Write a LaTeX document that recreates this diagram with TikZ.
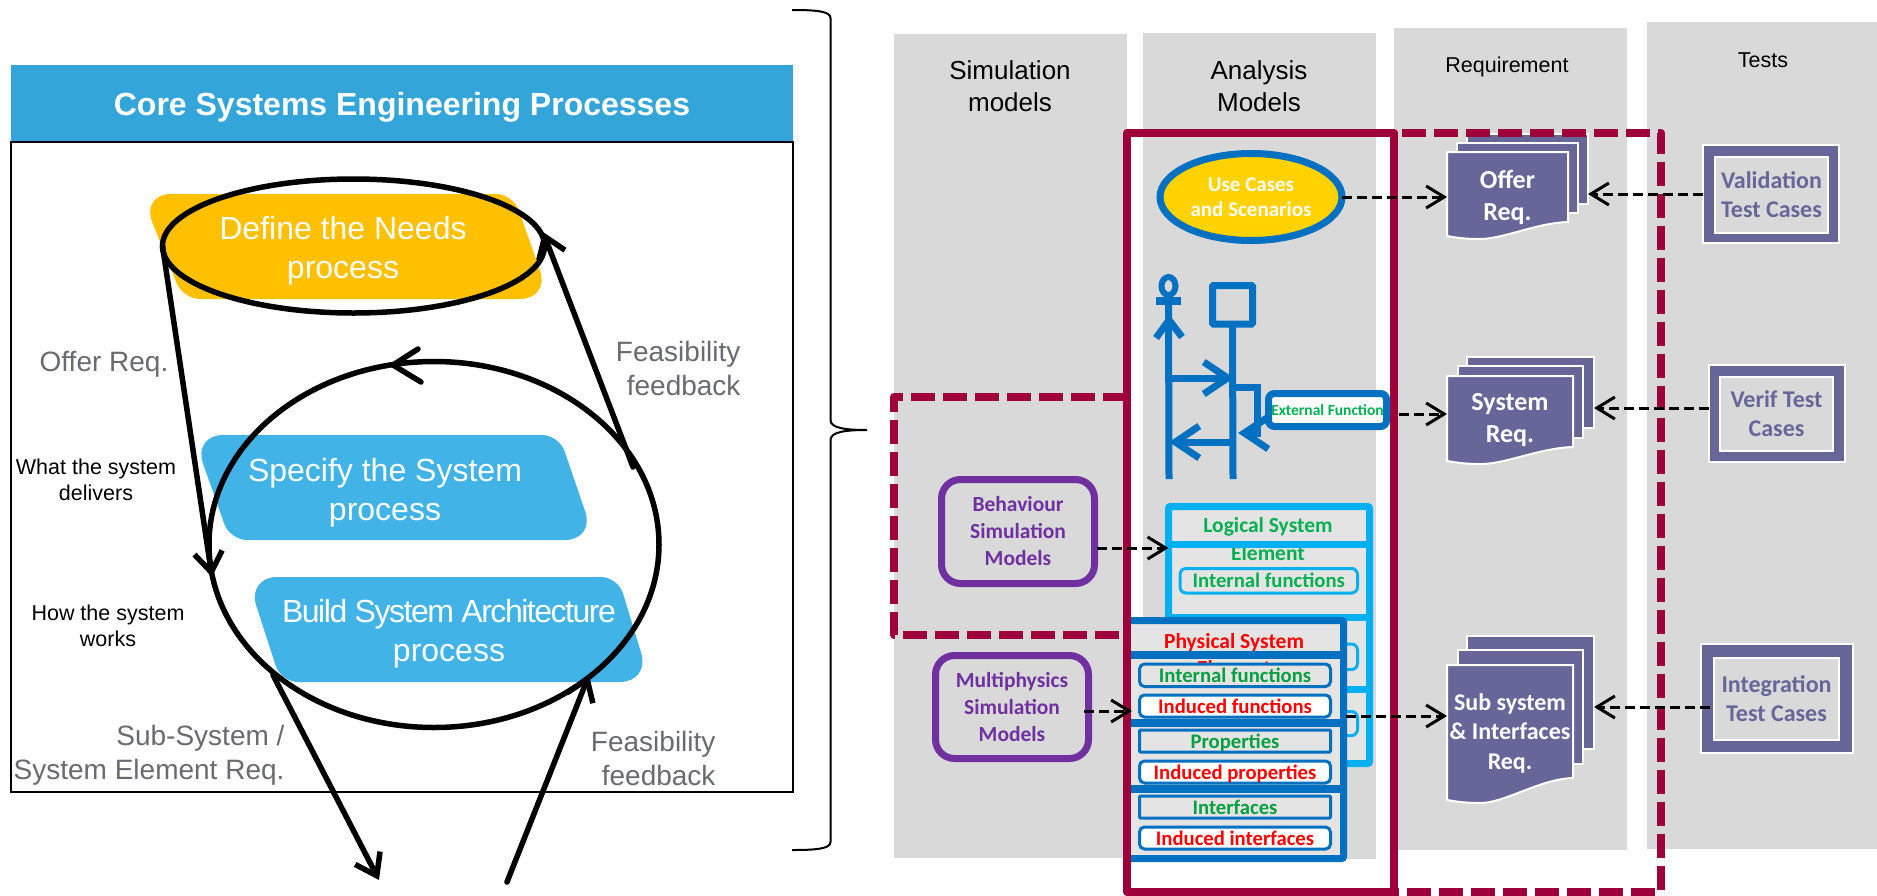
\documentclass[tikz,border=0pt]{standalone}
\usepackage{fontspec}
\setmainfont{Liberation Sans}
\newfontfamily\cb{Carlito}
\usetikzlibrary{arrows.meta,shapes.geometric}
\definecolor{crim}{HTML}{9E0039}
\definecolor{hdr}{HTML}{34A5D8}
\definecolor{pblue}{HTML}{41B3E6}
\definecolor{pyel}{HTML}{FFC000}
\definecolor{ucyel}{HTML}{FFD200}
\definecolor{cgray}{HTML}{D9D9D9}
\definecolor{igray}{HTML}{E4E4E4}
\definecolor{lblgray}{HTML}{6A6B70}
\definecolor{dblue}{HTML}{0070C0}
\definecolor{lblue}{HTML}{00B0F0}
\definecolor{purp}{HTML}{7030A0}
\definecolor{doc}{HTML}{666699}
\definecolor{gr}{HTML}{00B050}
\definecolor{gr2}{HTML}{00A040}
\newcommand\bx[7]{\node[#6,inner sep=0pt,outer sep=0pt,align=center,minimum width={#4-#2},minimum height={#5-#3}] (#1) at ({(#2+#4)/2},{(#3+#5)/2}) {#7};}
\newcommand\docpage[5]{\draw[docline] (#1,#2) -- (#3,#2) -- (#3,#4) .. controls ({#3-.27*(#3-#1)},{#4+1}) and ({#1+.45*(#3-#1)},{#5+4}) .. ({#1+.25*(#3-#1)},{#5+3}) .. controls ({#1+.13*(#3-#1)},{#5+3}) and ({#1+.05*(#3-#1)},{#5+1}) .. (#1,#5) -- cycle;}
% colour, top-left x, top-right x, bottom-right x, bottom-left x, top y, bottom y
\newcommand\procshape[7]{\fill[#1] ({(#2+#3)/2},#6) [rounded corners=17pt] -- (#3,#6) [rounded corners=30pt] -- (#4,#7) [rounded corners=17pt] -- (#5,#7) [rounded corners=30pt] -- (#2,#6) -- cycle;}
\tikzset{
 column/.style={fill=cgray,draw=none},
 ptext/.style={text=white,align=center,font=\fontsize{32}{39}\selectfont},
 biglabel/.style={text=lblgray,align=center,font=\fontsize{28}{34}\selectfont},
 smalllabel/.style={text=black,align=center,font=\fontsize{21.5}{26}\selectfont},
 bigline/.style={black,line width=5.5pt,line cap=round,line join=round},
 bigarrow/.style={bigline,-{Straight Barb[length=20pt,width=28pt,line width=5.5pt]}},
 coltitle/.style={text=black,align=center,font=\fontsize{26}{32}\selectfont},
 coltitlesm/.style={text=black,align=center,font=\fontsize{21.5}{25}\selectfont},
 crimline/.style={crim,line width=8pt,line join=round},
 crimdash/.style={crimline,dash pattern=on 24pt off 8pt},
 dasharrow/.style={black,line width=3pt,dash pattern=on 10pt off 5pt,-{Straight Barb[length=18pt,width=22pt,line width=3pt]}},
 seq/.style={dblue,line width=7pt},
 seqarrow/.style={seq,-{Straight Barb[length=24pt,width=32pt,line width=7pt]}},
 simbox/.style={draw=purp,line width=7pt,rounded corners=19pt,text=purp,font=\cb\bfseries\fontsize{21.5}{27}\selectfont},
 docline/.style={draw=white,fill=doc,line width=2pt},
 docpagebox/.style={draw=white,fill=doc,line width=2pt},
 doctext/.style={text=white,font=\cb\bfseries\fontsize{24}{29.5}\selectfont},
 doctextbig/.style={text=white,font=\cb\bfseries\fontsize{26}{32}\selectfont},
 testouter/.style={draw=white,fill=doc,line width=2pt},
 testinner/.style={draw=white,fill=cgray,line width=2pt,text=doc,font=\cb\bfseries\fontsize{24}{29}\selectfont},
 lgbox/.style={draw=lblue,fill=igray,line width=7pt,rounded corners=2pt},
 lginner/.style={draw=lblue,fill=igray,line width=3pt,rounded corners=6pt,text=gr,font=\cb\bfseries\fontsize{20.7}{24}\selectfont},
 phbox/.style={draw=dblue,fill=igray,line width=7pt,rounded corners=2pt},
 phgreen/.style={draw=dblue,fill=igray,line width=3pt,rounded corners=5pt,text=gr2,text height=18pt,text depth=4pt,font=\cb\bfseries\fontsize{20.7}{24}\selectfont},
 phgreensq/.style={phgreen,rounded corners=1pt},
 phred/.style={draw=dblue,fill=white,line width=3pt,rounded corners=5pt,text=red,text height=18pt,text depth=4pt,font=\cb\bfseries\fontsize{20.7}{24}\selectfont},
 lgtext/.style={text=gr,font=\cb\bfseries\fontsize{21.5}{24}\selectfont},
 phtext/.style={text=red,font=\cb\bfseries\fontsize{21.5}{24}\selectfont},
}
\begin{document}
\begin{tikzpicture}[x=1pt,y=-1pt]
\path[use as bounding box,fill=white] (0,0) rectangle (1877,895);
% left panel
\bx{hdrbox}{11}{65}{793}{142}{fill=hdr}{}
\node[text=white,font=\bfseries\fontsize{32}{38}\selectfont] (hdrtext) at (402,107) {Core Systems Engineering Processes};
\bx{panel}{11}{142}{793}{792}{draw=black,line width=2.5pt,fill=white}{}
\procshape{pyel}{141}{513}{550}{183}{194}{299}
\procshape{pblue}{193}{559}{595}{230}{435}{540}
\procshape{pblue}{247}{618}{650}{281}{577}{682}
\node[ptext] (needs) at (343,250.5) {Define the Needs\\process};
\node[ptext] (spec) at (385,492.5) {Specify the System\\process};
\node[ptext] (build) at (449,633.5) {\addfontfeature{LetterSpace=-4.6}Build System Architecture\\process};
\node[draw=black,line width=5.5pt,ellipse,inner sep=0pt,outer sep=0pt,minimum width=382pt,minimum height=134pt] (needsEll) at (353.5,246) {};
\node[draw=black,line width=5.5pt,ellipse,inner sep=0pt,outer sep=0pt,minimum width=450pt,minimum height=366pt] (loopEll) at (434,544.5) {};
\coordinate (loopTip) at (393,365);
\coordinate (loopA) at (418,349);
\coordinate (loopB) at (421,382);
\draw[bigline] (loopA) -- (loopTip) -- (loopB);
\coordinate (offerEnd) at (212,577);
\coordinate (fbStart) at (633,467);
\coordinate (fbEnd) at (543,232);
\coordinate (subStart) at (273,675);
\coordinate (subEnd) at (379,880);
\coordinate (fb2Start) at (507,882);
\coordinate (fb2End) at (589,675);
\draw[bigarrow] (needsEll.west) -- (offerEnd);
\draw[bigarrow] (fbStart) -- (fbEnd);
\draw[bigarrow] (subStart) -- (subEnd);
\draw[bigarrow] (fb2Start) -- (fb2End);
\node[biglabel] (lOffer) at (104,364) {Offer Req.};
\node[biglabel,align=right,anchor=east] (lFb1) at (744,368.5) {Feasibility\\feedback};
\node[smalllabel] (lWhat) at (96,480) {What the system\\delivers};
\node[smalllabel] (lHow) at (108,626) {How the system\\works};
\node[biglabel,align=right,anchor=east] (lSub) at (288,755) {Sub-System /\\System Element Req.};
\node[biglabel,align=right,anchor=east] (lFb2) at (719,758) {Feasibility\\feedback};
% brace
\draw[black,line width=2pt] (792,10) .. controls (815,10) and (830.5,11) .. (830.5,18) -- (830.5,420) .. controls (830.5,428) and (845,430) .. (867,430) .. controls (845,430) and (830.5,432) .. (830.5,440) -- (830.5,842) .. controls (830.5,849) and (815,850) .. (792,850);
% columns
\bx{colSim}{894}{34}{1127}{858}{column}{}
\bx{colAna}{1143}{33}{1376}{859}{column}{}
\bx{colReq}{1394}{28}{1627}{850}{column}{}
\bx{colTst}{1647}{22}{1877}{849}{column}{}
\node[coltitle] (tSim) at (1010,86) {Simulation\\models};
\node[coltitle] (tAna) at (1259,86) {Analysis\\Models};
\node[coltitlesm] (tReq) at (1507,67) {Requirement};
\node[coltitlesm] (tTst) at (1763,60) {Tests};
% documents
\bx{offerBack}{1467}{134}{1588}{204}{docpagebox}{}
\bx{offerMid}{1457}{143}{1578}{213}{docpagebox}{}
\docpage{1447}{152}{1568}{222}{236}
\bx{offer}{1447}{152}{1568}{242}{doctextbig}{Offer\\Req.}
\bx{sysBack}{1467}{357}{1594}{428}{docpagebox}{}
\bx{sysMid}{1458}{366}{1583}{438}{docpagebox}{}
\docpage{1447}{376}{1573}{447}{461}
\bx{sys}{1447}{376}{1573}{464}{doctextbig}{System\\Req.}
\bx{subBack}{1467}{636}{1594}{749}{docpagebox}{}
\bx{subMid}{1458}{650}{1583}{764}{docpagebox}{}
\docpage{1447}{665}{1573}{778}{800}
\bx{subReq}{1447}{665}{1573}{801}{doctext}{Sub system\\\& Interfaces\\Req.}
% tests
\bx{valO}{1703}{145}{1839}{243}{testouter}{}
\bx{val}{1715}{157}{1828}{233}{testinner}{Validation\\Test Cases}
\bx{verO}{1709}{365}{1845}{462}{testouter}{}
\bx{ver}{1720}{377}{1833}{451}{testinner}{Verif Test\\Cases}
\bx{intO}{1701}{644}{1853}{753}{testouter}{}
\bx{int}{1714}{658}{1839}{740}{testinner}{Integration\\Test Cases}
% simulation models
\bx{beh}{941.5}{479.5}{1094.5}{583.5}{simbox}{Behaviour\\Simulation\\Models}
\bx{mph}{935.5}{655.5}{1088.5}{758.5}{simbox}{Multiphysics\\Simulation\\Models}
% use case
\node[ellipse,draw=dblue,fill=ucyel,line width=7pt,inner sep=0pt,outer sep=0pt,minimum width=182pt,minimum height=87pt,text=white,align=center,font=\cb\bfseries\fontsize{21}{25}\selectfont] (usecase) at (1251,197) {Use Cases\\and Scenarios};
% sequence diagram
\node[ellipse,draw=dblue,fill=cgray,line width=6pt,inner sep=0pt,outer sep=0pt,minimum width=14pt,minimum height=18pt] (head) at (1168.5,286) {};
\coordinate (barL) at (1156,301);
\coordinate (barR) at (1181,301);
\draw[dblue,line width=8pt] (barL) -- (barR);
\coordinate (actorBase) at (1169,479);
\draw[seq] (head.south) -- (actorBase);
\coordinate (legL) at (1156,338);
\coordinate (legM) at (1169,320);
\coordinate (legR) at (1182,337);
\draw[seq] (legL) -- (legM) -- (legR);
\node[draw=dblue,fill=cgray,line width=7pt,rounded corners=1pt,inner sep=0pt,outer sep=0pt,minimum width=40pt,minimum height=38.5pt] (lifeBox) at (1232.5,304.75) {};
\coordinate (lifeBase) at (1233,479);
\draw[seq] (lifeBox.south) -- (lifeBase);
\coordinate (m1s) at (1169,378);
\coordinate (m1e) at (1234,378);
\draw[seqarrow] (m1s) -- (m1e);
\coordinate (m2s) at (1233,442);
\coordinate (m2e) at (1169,442);
\draw[seqarrow] (m2s) -- (m2e);
\coordinate (selfA) at (1233,387);
\coordinate (selfB) at (1257,387);
\coordinate (selfC) at (1257,433);
\coordinate (selfD) at (1238,433);
\draw[seq,-{Straight Barb[length=24pt,width=32pt,line width=7pt]}] (selfA) -- (selfB) -- (selfC) -- (selfD);
\bx{ext}{1268.5}{393.5}{1386.5}{426.5}{draw=dblue,fill=white,line width=7pt,rounded corners=6pt,text=gr,font=\cb\bfseries\fontsize{15.5}{17}\selectfont}{External Function}
% logical
\bx{logical}{1168.5}{506.5}{1369.5}{763.5}{lgbox}{}
\node[lgtext] (logT1) at (1268,527) {Logical System};
\node[lgtext] (logT2) at (1268,553) {Element};
\coordinate (dv1) at (1168.5,544);
\coordinate (dv2) at (1168.5,617);
\coordinate (dv3) at (1168.5,689);
\draw[lblue,line width=7pt] (dv1) -- (dv1 -| logical.east);
\draw[lblue,line width=7pt] (dv2) -- (dv2 -| logical.east);
\draw[lblue,line width=7pt] (dv3) -- (dv3 -| logical.east);
\bx{lgInt}{1180}{568.5}{1357.5}{593}{lginner}{Internal functions}
\bx{lgB2}{1180}{644}{1357.5}{669.5}{lginner}{}
\bx{lgB3}{1180}{711.5}{1357.5}{735.5}{lginner}{}
% physical
\bx{phys}{1127}{620.5}{1343.5}{858.5}{phbox}{}
\node[phtext] (phT1) at (1234,643) {Physical System};
\node[phtext] (phT2) at (1234,668) {Element};
\coordinate (pd1) at (1127,655);
\coordinate (pd2) at (1127,723);
\coordinate (pd3) at (1127,789);
\draw[dblue,line width=8pt] (pd1) -- (pd1 -| phys.east);
\draw[dblue,line width=8pt] (pd2) -- (pd2 -| phys.east);
\draw[dblue,line width=8pt] (pd3) -- (pd3 -| phys.east);
\bx{ph1}{1139.5}{664}{1330.5}{686.5}{phgreen}{Internal functions}
\bx{ph2}{1139.5}{695}{1330.5}{717}{phred}{Induced functions}
\bx{ph3}{1139.5}{730}{1330.5}{752}{phgreensq}{Properties}
\bx{ph4}{1139.5}{761}{1330.5}{783}{phred}{Induced properties}
\bx{ph5}{1139.5}{796}{1330.5}{818}{phgreensq}{Interfaces}
\bx{ph6}{1139.5}{827}{1330.5}{849}{phred}{Induced interfaces}
% crimson
\coordinate (cTL) at (1127,133);
\coordinate (cTR) at (1394,133);
\coordinate (cBR) at (1394,892);
\coordinate (cBL) at (1127,892);
\coordinate (rTR) at (1661,133);
\coordinate (rBR) at (1661,892);
\coordinate (lT) at (1127,397);
\coordinate (lTL) at (894,397);
\coordinate (lBL) at (894,635);
\coordinate (lB) at (1127,635);
\draw[crimdash,dash phase=24pt] (cTR) -- (rTR) -- (rBR) -- (cBR);
\draw[crimdash] (lT) -- (lTL) -- (lBL) -- (lB);
\draw[crimline] (cTL) rectangle (cBR);
% dashed arrows
\coordinate (aC) at (1399,414);
\coordinate (aE) at (1097,548);
\coordinate (aF) at (1084,711);
\coordinate (aFe) at (1132,711);
\coordinate (aG) at (1346,716);
\coordinate (aD) at (1709,408);
\coordinate (aH) at (1710,707);
\draw[dasharrow] (usecase.east) -- (usecase.east -| offer.west);
\draw[dasharrow] (valO.west) -- (valO.west -| offerBack.east);
\draw[dasharrow] (aC) -- (aC -| sys.west);
\draw[dasharrow] (aD) -- (aD -| sysBack.east);
\draw[dasharrow] (aE) -- (aE -| logical.west);
\draw[dasharrow] (aF) -- (aFe);
\draw[dasharrow] (aG) -- (aG -| subReq.west);
\draw[dasharrow] (aH) -- (aH -| subBack.east);
\end{tikzpicture}
\end{document}
